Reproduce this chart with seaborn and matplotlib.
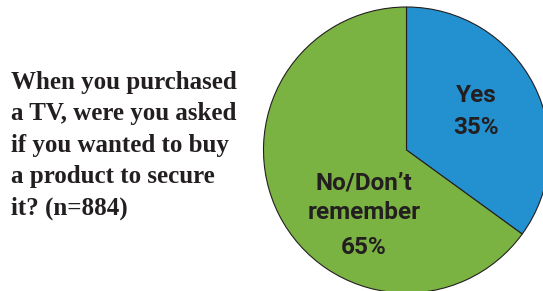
import matplotlib
matplotlib.use('Agg')
import matplotlib.pyplot as plt
import seaborn as sns

labels = ['Yes', 'No/Don\u2019t\nremember']
shares = [35, 65]
colors = ['#2390D0', '#7BB342']
question = ['When you purchased', 'a TV, were you asked', 'if you wanted to buy',
            'a product to secure', 'it? (n=884)']

sns.set_style('white')

fig = plt.figure(figsize=(5.43, 2.91), dpi=100)
ax = fig.add_axes([0, 0, 1, 1])

wedges, _ = ax.pie(shares, colors=colors, startangle=90, counterclock=False,
                   center=(406.5, 141), radius=143,
                   wedgeprops=dict(edgecolor='#231F20', linewidth=0.8))
ax.set_xlim(0, 543)
ax.set_ylim(0, 291)
ax.set_aspect('equal')
ax.axis('off')

lab_font = dict(family=['Roboto', 'DejaVu Sans'], weight='bold',
                size=17.5, color='#231F20', ha='center', va='center')
ax.text(476, 291 - 95, labels[0], **lab_font)
ax.text(476, 291 - 128, f'{shares[0]}%', **lab_font)
ax.text(364, 291 - 198, labels[1], linespacing=1.35, **lab_font)
ax.text(364, 291 - 248, f'{shares[1]}%', **lab_font)

for i, line in enumerate(question):
    ax.text(11, 291 - 82 - i * 31.6, line, family=['Liberation Serif', 'DejaVu Serif'],
            weight='bold', size=18, color='#231F20', ha='left', va='center')

fig.savefig('out.png', dpi=100)
